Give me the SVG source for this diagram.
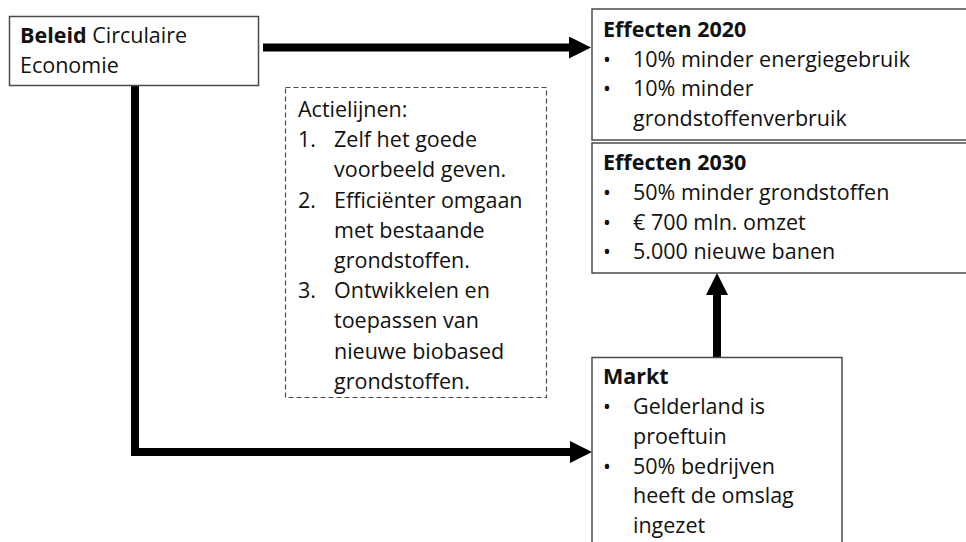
<svg xmlns="http://www.w3.org/2000/svg" width="966" height="542" viewBox="0 0 966 542">
<style>
  .box { fill: #ffffff; stroke: #4a4a4a; stroke-width: 1.5; }
  .dash { fill: #ffffff; stroke: #4a4a4a; stroke-width: 1.2; stroke-dasharray: 5 3; }
  text { font-family: "Open Sans", "Liberation Sans", sans-serif; font-size: 21.5px; fill: #111111; }
  .b { font-weight: bold; }
  .bu { font-size: 21px; }
  .conn { fill: none; stroke: #000000; stroke-width: 8; stroke-linejoin: miter; }
</style>
<defs>
  <marker id="ah" markerUnits="userSpaceOnUse" markerWidth="22" markerHeight="22" refX="0" refY="11" orient="auto" viewBox="0 0 22 22">
    <path d="M0,0 L22,11 L0,22 z" fill="#000000"/>
  </marker>
</defs>
<rect width="966" height="542" fill="#ffffff"/>

<g id="connectors">
  <path class="conn" d="M263,47.5 L569,47.5" marker-end="url(#ah)"/>
  <path class="conn" d="M135,86 L135,452 L570,452" marker-end="url(#ah)"/>
  <path class="conn" d="M717,357 L717,295" marker-end="url(#ah)"/>
</g>

<g id="beleid">
  <rect class="box" x="9.5" y="16.5" width="249" height="69"/>
  <text x="20" y="43"><tspan class="b">Beleid</tspan> Circulaire</text>
  <text x="20" y="73">Economie</text>
</g>

<g id="actielijnen">
  <rect class="dash" x="285.5" y="87.5" width="261" height="310"/>
  <text x="298" y="117">Actielijnen:</text>
  <text x="298" y="147">1.</text><text x="334" y="147">Zelf het goede</text>
  <text x="334" y="177">voorbeeld geven.</text>
  <text x="298" y="208">2.</text><text x="334" y="208">Efficiënter omgaan</text>
  <text x="334" y="238">met bestaande</text>
  <text x="334" y="268">grondstoffen.</text>
  <text x="298" y="298">3.</text><text x="334" y="298">Ontwikkelen en</text>
  <text x="334" y="328">toepassen van</text>
  <text x="334" y="359">nieuwe biobased</text>
  <text x="334" y="389">grondstoffen.</text>
</g>

<g id="effecten2020">
  <rect class="box" x="592" y="9" width="390" height="131"/>
  <text class="b" x="603" y="37">Effecten 2020</text>
  <text class="bu" x="603" y="67">•</text><text x="633" y="67">10% minder energiegebruik</text>
  <text class="bu" x="603" y="96">•</text><text x="633" y="96">10% minder</text>
  <text x="633" y="126">grondstoffenverbruik</text>
</g>

<g id="effecten2030">
  <rect class="box" x="592" y="143" width="390" height="130"/>
  <text class="b" x="603" y="170">Effecten 2030</text>
  <text class="bu" x="603" y="200">•</text><text x="633" y="200">50% minder grondstoffen</text>
  <text class="bu" x="603" y="230">•</text><text x="633" y="230">€ 700 mln. omzet</text>
  <text class="bu" x="603" y="259">•</text><text x="633" y="259">5.000 nieuwe banen</text>
</g>

<g id="markt">
  <rect class="box" x="592" y="357.5" width="250" height="200"/>
  <text class="b" x="603" y="384">Markt</text>
  <text class="bu" x="603" y="414">•</text><text x="633" y="414">Gelderland is</text>
  <text x="633" y="444">proeftuin</text>
  <text class="bu" x="603" y="474">•</text><text x="633" y="474">50% bedrijven</text>
  <text x="633" y="503">heeft de omslag</text>
  <text x="633" y="533">ingezet</text>
</g>
</svg>
